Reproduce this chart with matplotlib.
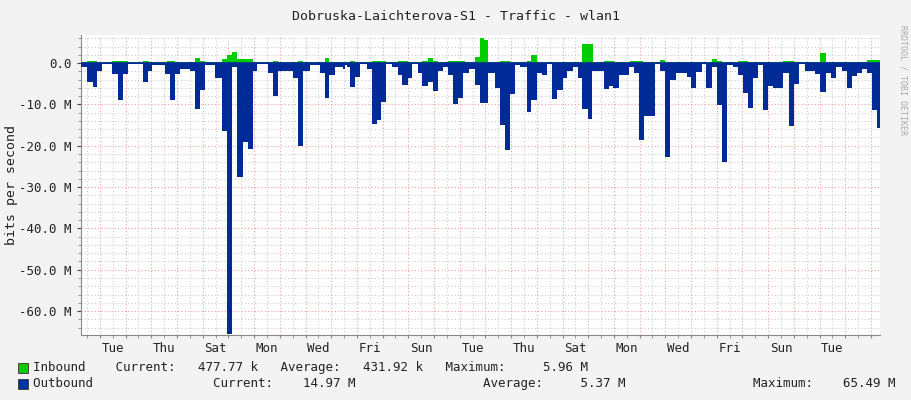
import matplotlib
matplotlib.use("Agg")
import matplotlib.pyplot as plt
import numpy as np
from matplotlib.ticker import MultipleLocator, FuncFormatter

# time in hours from Tuesday 00:00 of first week; values in Mbit/s
out_t = [-18.7,-12.1,-6.5,-2.8,1.9,11.2,16.8,21.5,26.2,40.2,44.8,48.6,60.7,65.4,70,74.7,84,88.7,93.4,98,
         107.4,114,118.6,123.3,128,133.6,138.2,143,146.6,157,161.6,166.3,180.3,185,189.6,196,205.5,210,214,219.5,
         227,228.8,230.7,233.5,238.2,242.8,249.4,254,258.7,262.5,267,272.7,278.3,282,287.7,291.4,297,300.7,306.4,311,
         315.7,320.4,325,329.7,334.4,339,344.6,350.3,355,362.4,369,373.6,378.3,383,387.6,392.3,398.8,402.6,408.2,412.8,
         417.5,422.2,426.8,432.4,436.2,441.8,446.5,450.2,455.8,459.5,470.7,475.4,479.1,484.7,494,498.8,503.4,508,518.4,
         523,527.7,532.4,538,548.3,552,556.7,562.3,566,571.6,576.3,581,585.6,591.2,596,600.6,605.3,610,614.6,619.3,
         624,628.6,638,643.5,648.2,653,658.5,667.8,672.5,678,682.8,687.4,693,697.7,702.4,707,711.7,716.4,721,725.7,728.5]
out_v = [1.0,4.5,5.7,2.0,0.3,2.7,9.0,2.7,0.3,4.5,2.0,0.5,2.7,9.0,2.7,1.5,2.0,11.0,6.5,0.5,
         3.5,16.5,65.5,1.0,27.5,19.0,20.7,2.0,0.3,2.5,8.0,2.0,3.5,20.0,2.0,0.5,2.5,8.5,3.0,1.0,
         1.5,0.5,1.0,5.7,3.4,0.3,1.5,14.7,13.7,9.5,0.3,1.0,3.0,5.3,3.5,0.3,2.5,5.5,4.5,6.7,
         2.0,1.0,3.0,10.0,8.4,2.5,1.5,5.3,9.7,2.5,6.0,15.0,21.0,7.5,0.5,1.0,11.8,9.0,2.5,2.8,
         0.3,8.7,6.6,3.5,2.0,1.0,3.5,11.2,13.5,2.0,6.2,5.5,6.0,3.0,1.0,2.5,18.5,12.7,0.3,
         2.0,22.7,4.0,2.5,3.3,6.0,2.2,0.3,6.0,1.0,10.2,24.0,0.5,1.0,3.0,7.3,10.8,3.5,0.5,11.4,
         5.5,6.0,2.5,15.2,5.0,0.3,2.0,2.7,7.0,2.5,3.5,1.0,2.0,6.0,3.2,2.3,1.5,2.5,11.4,15.6,15.6]

in_t = [-18.7,-12.1,-2.8,11.2,26.2,40.2,46,63,70,88.7,93.4,98,114,118.6,123.3,128,143,161.6,166.3,185,189.6,
        210,214,233.5,238.2,254,267,278.3,287.7,300.7,306.4,311,315.7,325,341,350.3,355,358.7,362.4,373.6,383,
        398.8,402.6,408.2,450.2,460.4,470.7,480,495,507,523,527.7,571.6,576.3,581,596,605.3,638,648.2,672.5,678,
        716.4,728.5]
in_v = [0.15,0.6,0.15,0.6,0.15,0.5,0.15,0.5,0.15,1.3,0.5,0.15,1.0,2.0,2.7,1.0,0.15,0.5,0.15,0.5,0.15,
        1.3,0.15,0.5,0.15,0.5,0.15,0.5,0.15,0.5,1.3,0.5,0.15,0.5,0.15,1.5,6.0,5.7,0.15,0.6,0.15,
        0.5,2.0,0.15,4.7,0.15,0.5,0.15,0.4,0.15,0.8,0.15,1.0,0.4,0.15,0.4,0.15,0.4,0.15,2.5,0.15,
        0.8,0.8]

day_labels = ["Tue","Thu","Sat","Mon","Wed","Fri","Sun","Tue","Thu","Sat","Mon","Wed","Fri","Sun","Tue"]
legend_rows = [
    ("Inbound ", "Current:   477.77 k   Average:   431.92 k   Maximum:     5.96 M", "#00CC00"),
    ("Outbound", "             Current:    14.97 M                 Average:     5.37 M                 Maximum:    65.49 M", "#0033AA"),
]

mono = "DejaVu Sans Mono"
fig = plt.figure(figsize=(9.11, 4.0), dpi=100, facecolor="#F3F3F3")
ax = fig.add_axes([81/911, 65/400, 799/911, 300/400])
ax.set_facecolor("white")

ot = np.array(out_t); ov = -np.array(out_v)*1e6
it = np.array(in_t); iv = np.array(in_v)*1e6
ax.fill_between(it, 0, iv, step="post", color="#00CC00", lw=0, zorder=3)
ax.fill_between(ot, 0, ov, step="post", color="#002A97", lw=0, zorder=3)
ax.axhline(0, color="#002A97", lw=1.2, zorder=4)

ax.set_xlim(-17.7, 728.5)
ax.set_ylim(-65.8e6, 6.8e6)
ax.yaxis.set_major_locator(MultipleLocator(10e6))
ax.yaxis.set_minor_locator(MultipleLocator(2e6))
ax.yaxis.set_major_formatter(FuncFormatter(lambda v, p: "0.0" if abs(v) < 1 else f"{v/1e6:.1f} M"))
ax.xaxis.set_major_locator(MultipleLocator(24))
ax.xaxis.set_minor_locator(MultipleLocator(12))
ax.set_xticklabels([])
ax.grid(which="minor", color="#CCCCCC", ls=(0, (1, 2)), lw=0.8, zorder=1)
ax.grid(which="major", color="#F0A0A0", ls=(0, (1, 2)), lw=0.8, zorder=2)
for i, lab in enumerate(day_labels):
    ax.text(12 + 48*i, -67.5e6, lab, ha="center", va="top", fontsize=9, family=mono, color="#222222")
ax.tick_params(axis="y", which="major", length=3, labelsize=9, colors="#444444")
ax.tick_params(axis="x", which="both", length=2, colors="#888888")
ax.tick_params(axis="y", which="minor", length=2, colors="#888888")
for lbl in ax.get_yticklabels():
    lbl.set_family(mono); lbl.set_color("#222222")
for s in ["top", "right"]:
    ax.spines[s].set_visible(False)
for s in ["left", "bottom"]:
    ax.spines[s].set_color("#888888"); ax.spines[s].set_linewidth(0.8)

fig.text(0.5, 1 - 16/400, "Dobruska-Laichterova-S1 - Traffic - wlan1", ha="center", va="center",
         fontsize=9.5, family=mono, color="#222222")
fig.text(12/911, 0.5 + 15/400, "bits per second", rotation=90, ha="center", va="center",
         fontsize=9.5, family=mono, color="#222222")
fig.text(903/911, 1 - 80/400, "RRDTOOL / TOBI OETIKER", rotation=270, ha="center", va="center",
         fontsize=6, family=mono, color="#AAAAAA")
for k, (name, rest, col) in enumerate(legend_rows):
    y = 1 - (368 + 16*k)/400
    fig.patches.append(plt.Rectangle((18/911, y - 5/400), 10/911, 10/400, transform=fig.transFigure,
                                     facecolor=col, edgecolor="#333333", lw=0.6))
    fig.text(33/911, y, name + "   " + rest, ha="left", va="center", fontsize=9, family=mono, color="#222222")

fig.savefig("out.png", dpi=100, facecolor=fig.get_facecolor())
